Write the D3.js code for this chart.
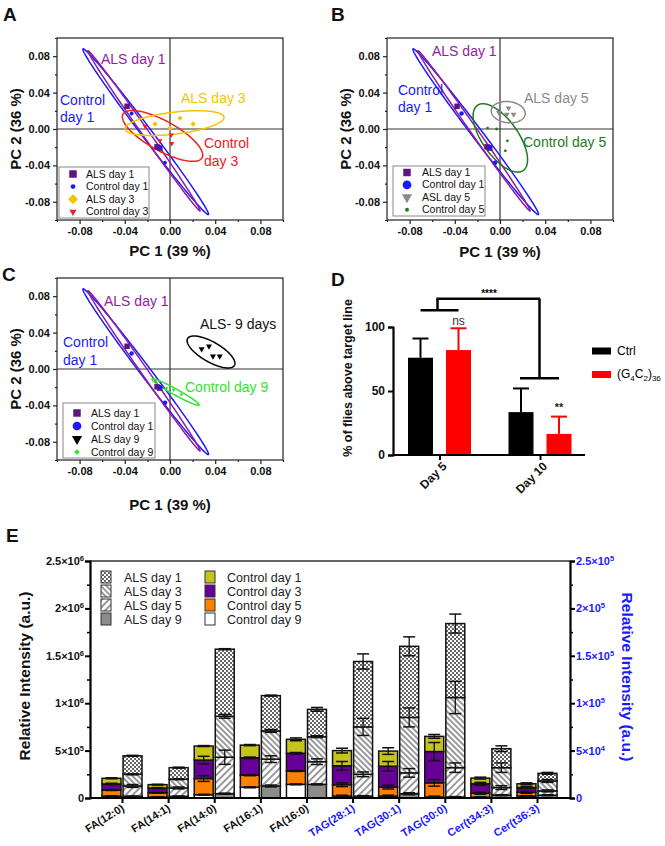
<!DOCTYPE html>
<html><head><meta charset="utf-8">
<script src="https://cdn.jsdelivr.net/npm/d3@7"></script>
<style>
body{margin:0;background:#fff}
text{font-family:"Liberation Sans",Arial,sans-serif}
</style></head>
<body><svg id="c" width="665" height="846"></svg>
<script>
// ---------------- DATA ----------------
const pcaDomain = [-0.1, 0.1];
const pcaTicks = [-0.08, -0.04, 0, 0.04, 0.08];
const pcaMinor = [-0.1, -0.06, -0.02, 0.02, 0.06, 0.1];

// scores
const alsDay1Pts = [[-0.038,0.025],[-0.0115,-0.0196],[-0.009,-0.021]];
const ctrlDay1Pts = [[-0.034,0.017],[-0.009,-0.020],[-0.0044,-0.037]];
const alsDay3Pts = [[-0.0133,0.0055],[0.0,0.001],[0.0088,0.012],[0.0204,0.0055]];
const ctrlDay3Pts = [[-0.022,0.003],[-0.009,-0.013],[0.001,-0.0065],[0.0015,-0.016]];
const alsDay5Pts = [[-0.001,0.018],[0.0075,0.023],[0.006,0.016],[0.012,0.016]];
const ctrlDay5Pts = [[-0.011,0.001],[-0.003,0.0],[0.0065,-0.013],[0.0047,-0.024]];
const alsDay9Pts = [[0.028,0.022],[0.0345,0.025],[0.038,0.014],[0.044,0.014]];
const ctrlDay9Pts = [[-0.013,-0.012],[-0.003,-0.021],[0.003,-0.023],[0.01,-0.028]];

// confidence ellipses: [centerX, centerY, majorHalfX, majorHalfY, minor/major ratio]
const ellAlsDay1 = [-0.023,-0.002,0.0496,-0.088,0.035];
const ellCtrlDay1 = [-0.0215,-0.003,0.0555,-0.091,0.05];
const ellAlsDay3 = [0.004,0.0065,0.0438,0.0065,0.22];
const ellCtrlDay3 = [-0.0066,-0.0076,0.035,-0.024,0.33];
const ellAlsDay5 = [0.0073,0.0185,0.015,-0.0022,0.62];
const ellCtrlDay5 = [0.0003,-0.0098,0.0203,-0.0358,0.45];
const ellAlsDay9 = [0.0363,0.0187,0.0207,-0.0148,0.37];
const ellCtrlDay9 = [0.0049,-0.0253,0.0208,-0.0143,0.11];

// panel D
const dDays = ["Day 5","Day 10"];
const dSeries = ["Ctrl","G4C2"];
const dCtrl = [76, 33.5];
const dCtrlErr = [15, 18.5];
const dG4C2 = [82, 16.5];
const dG4C2Err = [17, 13.5];
const dTicks = [0, 50, 100];
const dBracketDay5 = 113, dBracketTop = 122, dBracketDay10 = 60;

// panel E
const eCats = ["FA(12:0)","FA(14:1)","FA(14:0)","FA(16:1)","FA(16:0)","TAG(28:1)","TAG(30:1)","TAG(30:0)","Cer(t34:3)","Cer(t36:3)"];
const eAxisSide = ["L","L","L","L","L","R","R","R","R","R"];
const ctrlDay9 = [0.2e5,0.1e5,0.35e5,1.13e5,1.44e5, 0.2e4,0.2e4,0.1e4,0.08e4,0.2e4];
const ctrlDay5 = [0.64e5,0.45e5,1.7e5,1.27e5,1.41e5, 1.2e4,0.95e4,1.5e4,0.42e4,0.4e4];
const ctrlDay3 = [0.64e5,0.5e5,1.95e5,1.84e5,1.87e5, 2.0e4,2.2e4,3.3e4,1.0e4,0.5e4];
const ctrlDay1 = [0.6e5,0.36e5,1.48e5,1.34e5,1.47e5, 1.6e4,1.6e4,1.6e4,0.6e4,0.4e4];
const alsDay9 = [0.18e5,0.18e5,0.46e5,1.27e5,1.44e5, 0.2e4,0.45e4,0.1e4,0.3e4,0.3e4];
const alsDay5 = [1.09e5,0.88e5,3.84e5,2.83e5,2.39e5, 2.3e4,2.2e4,3.1e4,0.8e4,0.45e4];
const alsDay3 = [1.23e5,0.92e5,4.32e5,2.97e5,2.64e5, 5.0e4,5.85e4,7.4e4,2.1e4,1.05e4];
const alsDay1 = [1.95e5,1.22e5,7.08e5,3.73e5,2.88e5, 6.9e4,7.5e4,7.8e4,2.0e4,0.8e4];
const ctrlDay9Err = [0.03e5,0.02e5,0.04e5,0.05e5,0.04e5, 0.1e4,0.1e4,0.1e4,0.05e4,0.05e4];
const ctrlDay5Err = [0.05e5,0.04e5,0.3e5,0.05e5,0.05e5, 0.2e4,0.2e4,0.35e4,0.1e4,0.1e4];
const ctrlDay3Err = [0.08e5,0.05e5,0.4e5,0.08e5,0.08e5, 0.45e4,0.5e4,0.95e4,0.15e4,0.1e4];
const ctrlDay1Err = [0.05e5,0.04e5,0.05e5,0.06e5,0.15e5, 0.25e4,0.35e4,0.2e4,0.1e4,0.1e4];
const alsDay9Err = [0.02e5,0.02e5,0.05e5,0.1e5,0.05e5, 0.05e4,0.1e4,0.05e4,0.05e4,0.05e4];
const alsDay5Err = [0.15e5,0.1e5,0.75e5,0.35e5,0.3e5, 0.25e4,0.45e4,0.5e4,0.2e4,0.1e4];
const alsDay3Err = [0.05e5,0.05e5,0.2e5,0.15e5,0.1e5, 0.9e4,1.0e4,1.7e4,0.5e4,0.15e4];
const alsDay1Err = [0.05e5,0.05e5,0.05e5,0.05e5,0.2e5, 0.8e4,1.0e4,1.0e4,0.3e4,0.1e4];
const eLeftTicks = [0,5e5,1e6,1.5e6,2e6,2.5e6];
const eLeftMinor = [2.5e5,7.5e5,1.25e6,1.75e6,2.25e6];
const eRightTicks = [0,5e4,1e5,1.5e5,2e5,2.5e5];
const eRightMinor = [2.5e4,7.5e4,1.25e5,1.75e5,2.25e5];

// ---------------- DRAW ----------------
const svg = d3.select("#c");
const defs = svg.append("defs");
const FONT = '"Liberation Sans",Arial,sans-serif';

// patterns
const pChk = defs.append("pattern").attr("id","chk").attr("patternUnits","userSpaceOnUse").attr("width",4).attr("height",4);
pChk.append("rect").attr("width",4).attr("height",4).attr("fill","#fff");
pChk.append("rect").attr("width",2).attr("height",2).attr("fill","#666");
pChk.append("rect").attr("x",2).attr("y",2).attr("width",2).attr("height",2).attr("fill","#666");
const pH3 = defs.append("pattern").attr("id","h3").attr("patternUnits","userSpaceOnUse").attr("width",4).attr("height",4).attr("patternTransform","rotate(-45)");
pH3.append("rect").attr("width",4).attr("height",4).attr("fill","#fff");
pH3.append("line").attr("x1",1).attr("x2",1).attr("y1",0).attr("y2",4).attr("stroke","#555").attr("stroke-width",1.2);
const pH5 = defs.append("pattern").attr("id","h5").attr("patternUnits","userSpaceOnUse").attr("width",5).attr("height",5).attr("patternTransform","rotate(45)");
pH5.append("rect").attr("width",5).attr("height",5).attr("fill","#fff");
pH5.append("line").attr("x1",1).attr("x2",1).attr("y1",0).attr("y2",5).attr("stroke","#555").attr("stroke-width",1.2);

function ellipsePath(x, y, e) {
  const [cx, cy, ax, ay, r] = e;
  const c = [x(cx), y(cy)], p = [x(cx + ax), y(cy + ay)];
  const u = [p[0] - c[0], p[1] - c[1]];
  const v = [-u[1] * r, u[0] * r];
  const ts = d3.range(0, 2 * Math.PI, Math.PI / 72);
  return d3.line().curve(d3.curveLinearClosed)(ts.map(t => [
    c[0] + Math.cos(t) * u[0] + Math.sin(t) * v[0],
    c[1] + Math.cos(t) * u[1] + Math.sin(t) * v[1]]));
}

const SYM = {
  square: {type: d3.symbolSquare, rot: 0},
  circle: {type: d3.symbolCircle, rot: 0},
  diamond: {type: d3.symbolSquare, rot: 45},
  tri: {type: d3.symbolTriangle, rot: 180}
};

function symbolPath(kind, size) { return d3.symbol(SYM[kind].type, size)(); }

const C = {
  purple: "#941b9e", purpleFill: "#5e1580", blue: "#1a1aff", yellow: "#f5c400",
  red: "#f02020", gray: "#8a8a8a", dgreen: "#1e7a1e", lgreen: "#2ee52e", black: "#000"
};

function pcaPanel(cfg) {
  const W = 226, H = 182;
  const g = svg.append("g").attr("transform", `translate(${cfg.ox},${cfg.oy})`);
  const x = d3.scaleLinear().domain(pcaDomain).range([0, W]);
  const y = d3.scaleLinear().domain(pcaDomain).range([H, 0]);
  const fmt = d => d.toFixed(2);
  const xa = g.append("g").attr("transform", `translate(0,${H})`)
    .call(d3.axisBottom(x).tickValues(pcaTicks).tickSize(4).tickPadding(3).tickFormat(fmt));
  const xm = g.append("g").attr("transform", `translate(0,${H})`)
    .call(d3.axisBottom(x).tickValues(pcaMinor).tickSize(2).tickFormat(""));
  const ya = g.append("g").call(d3.axisLeft(y).tickValues(pcaTicks).tickSize(4).tickPadding(3).tickFormat(fmt));
  const ym = g.append("g").call(d3.axisLeft(y).tickValues(pcaMinor).tickSize(2).tickFormat(""));
  [xa, xm, ya, ym].forEach(a => {
    a.select(".domain").remove();
    a.selectAll("line").attr("stroke", "#222").attr("stroke-width", 1.2);
    a.selectAll("text").attr("font-family", FONT).attr("font-weight", "bold").attr("font-size", 11).attr("fill", "#111");
  });
  g.append("line").attr("x1", x(0)).attr("x2", x(0)).attr("y1", 0).attr("y2", H).attr("stroke", "#333").attr("stroke-width", 1.2);
  g.append("line").attr("y1", y(0)).attr("y2", y(0)).attr("x1", 0).attr("x2", W).attr("stroke", "#333").attr("stroke-width", 1.2);
  g.append("rect").attr("width", W).attr("height", H).attr("fill", "none").attr("stroke", "#222").attr("stroke-width", 1.2);

  cfg.ellipses.forEach(e => g.append("path").attr("d", ellipsePath(x, y, e.p))
    .attr("fill", "none").attr("stroke", e.color).attr("stroke-width", 1.5));
  cfg.points.forEach(s => g.append("g").selectAll("path").data(s.pts).join("path")
    .attr("transform", d => `translate(${x(d[0])},${y(d[1])}) rotate(${SYM[s.kind].rot})`)
    .attr("d", symbolPath(s.kind, s.size)).attr("fill", s.color));

  // axis titles
  svg.append("text").attr("x", cfg.ox + W / 2).attr("y", cfg.xTitleY).attr("text-anchor", "middle")
    .attr("font-weight", "bold").attr("font-size", 15).attr("fill", "#111").text("PC 1 (39 %)");
  svg.append("text").attr("transform", `translate(${cfg.yTitleX},${cfg.oy + H / 2}) rotate(-90)`)
    .attr("text-anchor", "middle").attr("font-weight", "bold").attr("font-size", 15).attr("fill", "#111").text("PC 2 (36 %)");
  // panel letter
  svg.append("text").attr("x", cfg.letter[1]).attr("y", cfg.letter[2]).attr("font-weight", "bold")
    .attr("font-size", 19).attr("fill", "#111").text(cfg.letter[0]);
  // in-plot labels
  cfg.labels.forEach(l => svg.append("text").attr("x", l[1]).attr("y", l[2]).attr("font-size", 14)
    .attr("fill", l[3]).text(l[0]));
  // legend
  const L = cfg.legend;
  svg.append("rect").attr("x", L.x).attr("y", L.y).attr("width", L.w).attr("height", L.h)
    .attr("fill", "#fff").attr("stroke", "#888").attr("stroke-width", 1);
  L.items.forEach((it, i) => {
    const cy = L.y + L.top + i * L.step;
    svg.append("path").attr("transform", `translate(${L.sx},${cy}) rotate(${SYM[it.kind].rot})`)
      .attr("d", symbolPath(it.kind, it.size)).attr("fill", it.color);
    svg.append("text").attr("x", L.tx).attr("y", cy + 3.5).attr("font-size", 10.5).attr("fill", "#111").text(it.label);
  });
}

const day1Ell = [{p: ellCtrlDay1, color: C.blue}, {p: ellAlsDay1, color: C.purple}];

// Panel A
pcaPanel({
  ox: 57, oy: 38, xTitleY: 256, yTitleX: 21, letter: ["A", 3, 21],
  ellipses: [...day1Ell, {p: ellCtrlDay3, color: C.red}, {p: ellAlsDay3, color: C.yellow}],
  points: [
    {pts: alsDay1Pts, kind: "square", size: 30, color: C.purpleFill},
    {pts: ctrlDay1Pts, kind: "circle", size: 12, color: C.blue},
    {pts: alsDay3Pts, kind: "diamond", size: 14, color: C.yellow},
    {pts: ctrlDay3Pts, kind: "tri", size: 12, color: C.red}
  ],
  labels: [["ALS day 1", 101, 64, C.purple], ["Control", 60, 105, C.blue], ["day 1", 60, 122, C.blue],
           ["ALS day 3", 181, 103, C.yellow], ["Control", 204, 148, C.red], ["day 3", 204, 166, C.red]],
  legend: {x: 59, y: 167, w: 90, h: 51, top: 7, step: 12.6, sx: 73, tx: 86, items: [
    {kind: "square", size: 56, color: C.purpleFill, label: "ALS day 1"},
    {kind: "circle", size: 18, color: C.blue, label: "Control day 1"},
    {kind: "diamond", size: 50, color: C.yellow, label: "ALS day 3"},
    {kind: "tri", size: 22, color: C.red, label: "Control day 3"}]}
});

// Panel B
pcaPanel({
  ox: 387, oy: 38, xTitleY: 257, yTitleX: 351, letter: ["B", 331, 21],
  ellipses: [...day1Ell, {p: ellCtrlDay5, color: C.dgreen}, {p: ellAlsDay5, color: C.gray}],
  points: [
    {pts: alsDay1Pts, kind: "square", size: 30, color: C.purpleFill},
    {pts: ctrlDay1Pts, kind: "circle", size: 16, color: C.blue},
    {pts: alsDay5Pts, kind: "tri", size: 14, color: C.gray},
    {pts: ctrlDay5Pts, kind: "circle", size: 6, color: C.dgreen}
  ],
  labels: [["ALS day 1", 432, 56, C.purple], ["Control", 398, 95, C.blue], ["day 1", 398, 112, C.blue],
           ["ALS day 5", 524, 103, C.gray], ["Control day 5", 523, 147, C.dgreen]],
  legend: {x: 393, y: 166, w: 92, h: 50, top: 6.5, step: 12.4, sx: 407, tx: 422, items: [
    {kind: "square", size: 56, color: C.purpleFill, label: "ALS day 1"},
    {kind: "circle", size: 60, color: C.blue, label: "Control day 1"},
    {kind: "tri", size: 45, color: C.gray, label: "ASL day 5"},
    {kind: "circle", size: 12, color: C.dgreen, label: "Control day 5"}]}
});

// Panel C
pcaPanel({
  ox: 57, oy: 278, xTitleY: 510, yTitleX: 21, letter: ["C", 2, 281],
  ellipses: [...day1Ell, {p: ellCtrlDay9, color: C.lgreen}, {p: ellAlsDay9, color: C.black}],
  points: [
    {pts: alsDay1Pts, kind: "square", size: 30, color: C.purpleFill},
    {pts: ctrlDay1Pts, kind: "circle", size: 16, color: C.blue},
    {pts: alsDay9Pts, kind: "tri", size: 16, color: C.black},
    {pts: ctrlDay9Pts, kind: "diamond", size: 6, color: C.lgreen}
  ],
  labels: [["ALS day 1", 104, 306, C.purple], ["Control", 63, 347, C.blue], ["day 1", 63, 365, C.blue],
           ["ALS- 9 days", 200, 329, "#111"], ["Control day 9", 185, 392, C.lgreen]],
  legend: {x: 63, y: 403, w: 92, h: 55, top: 10, step: 13, sx: 77, tx: 91, items: [
    {kind: "square", size: 56, color: C.purpleFill, label: "ALS day 1"},
    {kind: "circle", size: 60, color: C.blue, label: "Control day 1"},
    {kind: "tri", size: 45, color: C.black, label: "ALS day 9"},
    {kind: "diamond", size: 16, color: C.lgreen, label: "Control day 9"}]}
});

// ---------------- Panel D ----------------
{
  const xD = d3.scalePoint().domain(dDays).range([439.5, 540]);
  const sub = d3.scaleBand().domain(dSeries).range([-31.5, 31.5]).paddingInner(0.342);
  const yD = d3.scaleLinear().domain([0, 100]).range([455, 327]);
  const g = svg.append("g");
  const vals = {Ctrl: dCtrl, G4C2: dG4C2};
  const errs = {Ctrl: dCtrlErr, G4C2: dG4C2Err};
  const col = {Ctrl: "#000", G4C2: "#ff0000"};
  dSeries.forEach(s => dDays.forEach((d, i) => {
    const x0 = xD(d) + sub(s), bw = sub.bandwidth(), cx = x0 + bw / 2;
    g.append("line").attr("x1", cx).attr("x2", cx).attr("y1", yD(vals[s][i])).attr("y2", yD(vals[s][i] + errs[s][i]))
      .attr("stroke", col[s]).attr("stroke-width", 2);
    g.append("line").attr("x1", cx - 8).attr("x2", cx + 8).attr("y1", yD(vals[s][i] + errs[s][i])).attr("y2", yD(vals[s][i] + errs[s][i]))
      .attr("stroke", col[s]).attr("stroke-width", 2);
    g.append("rect").attr("x", x0).attr("y", yD(vals[s][i])).attr("width", bw).attr("height", yD(0) - yD(vals[s][i]))
      .attr("fill", col[s]);
  }));
  const ya = g.append("g").attr("transform", "translate(393,0)").call(d3.axisLeft(yD).tickValues(dTicks).tickSize(5).tickPadding(3));
  ya.select(".domain").attr("stroke", "#000").attr("stroke-width", 2.2);
  ya.selectAll("line").attr("stroke", "#000").attr("stroke-width", 2);
  ya.selectAll("text").attr("font-family", FONT).attr("font-weight", "bold").attr("font-size", 12).attr("fill", "#111");
  const xa = g.append("g").attr("transform", "translate(0,455)").call(d3.axisBottom(xD).tickSize(5).tickFormat(""));
  xa.select(".domain").attr("d", "M393,0H585").attr("stroke", "#000").attr("stroke-width", 2.2);
  xa.selectAll("line").attr("stroke", "#000").attr("stroke-width", 2);
  dDays.forEach(d => g.append("text").attr("transform", `translate(${xD(d) + 8},467) rotate(-45)`)
    .attr("text-anchor", "end").attr("font-weight", "bold").attr("font-size", 12).attr("fill", "#111").text(d));
  // brackets
  const bl = (x1, y1, x2, y2) => g.append("line").attr("x1", x1).attr("y1", y1).attr("x2", x2).attr("y2", y2)
    .attr("stroke", "#000").attr("stroke-width", 2.5);
  const c5 = xD("Day 5"), c10 = xD("Day 10");
  bl(c5 - 19, yD(dBracketDay5), c5 + 19, yD(dBracketDay5));
  bl(c5 - 2, yD(dBracketDay5), c5 - 2, yD(dBracketTop));
  bl(c5 - 3.2, yD(dBracketTop), c10 - 0.5 + 0.7, yD(dBracketTop));
  bl(c10 - 0.5, yD(dBracketTop), c10 - 0.5, yD(dBracketDay10));
  bl(c10 - 20, yD(dBracketDay10), c10 + 19, yD(dBracketDay10));
  g.append("text").attr("x", 489).attr("y", 297).attr("text-anchor", "middle").attr("font-size", 10).attr("font-weight", "bold").text("****");
  g.append("text").attr("x", xD("Day 5") + sub("G4C2") + sub.bandwidth() / 2).attr("y", 325).attr("text-anchor", "middle")
    .attr("font-size", 12).attr("fill", "#333").text("ns");
  g.append("text").attr("x", xD("Day 10") + sub("G4C2") + sub.bandwidth() / 2).attr("y", 411).attr("text-anchor", "middle")
    .attr("font-size", 11).attr("font-weight", "bold").attr("fill", "#222").text("**");
  g.append("text").attr("transform", "translate(352,378) rotate(-90)").attr("text-anchor", "middle")
    .attr("font-weight", "bold").attr("font-size", 12.5).attr("fill", "#111").text("% of flies  above target line");
  // legend
  g.append("rect").attr("x", 592).attr("y", 347.5).attr("width", 19).attr("height", 7).attr("fill", "#000");
  g.append("text").attr("x", 617).attr("y", 355).attr("font-size", 12).text("Ctrl");
  g.append("rect").attr("x", 592).attr("y", 371).attr("width", 19).attr("height", 7).attr("fill", "#ff0000");
  const t = g.append("text").attr("x", 617).attr("y", 378).attr("font-size", 12);
  t.append("tspan").text("(G");
  t.append("tspan").attr("font-size", 8).attr("dy", 3).text("4");
  t.append("tspan").attr("dy", -3).text("C");
  t.append("tspan").attr("font-size", 8).attr("dy", 3).text("2");
  t.append("tspan").attr("dy", -3).text(")");
  t.append("tspan").attr("font-size", 8).attr("dy", 3).text("36");
  svg.append("text").attr("x", 331).attr("y", 286).attr("font-weight", "bold").attr("font-size", 19).attr("fill", "#111").text("D");
}

// ---------------- Panel E ----------------
{
  const xE = d3.scalePoint().domain(eCats).range([122, 537]);
  const yL = d3.scaleLinear().domain([0, 2.5e6]).range([798, 561]);
  const yR = d3.scaleLinear().domain([0, 2.5e5]).range([798, 561]);
  const sub = d3.scaleBand().domain(["ctrl", "als"]).range([-20, 20]).paddingInner(0.1);
  const groups = [
    {key: "ctrl", series: [
      {label: "Control day 9", v: ctrlDay9, e: ctrlDay9Err, fill: "#ffffff"},
      {label: "Control day 5", v: ctrlDay5, e: ctrlDay5Err, fill: "#ff7f00"},
      {label: "Control day 3", v: ctrlDay3, e: ctrlDay3Err, fill: "#660099"},
      {label: "Control day 1", v: ctrlDay1, e: ctrlDay1Err, fill: "#c5c41c"}]},
    {key: "als", series: [
      {label: "ALS day 9", v: alsDay9, e: alsDay9Err, fill: "#8c8c8c"},
      {label: "ALS day 5", v: alsDay5, e: alsDay5Err, fill: "url(#h5)"},
      {label: "ALS day 3", v: alsDay3, e: alsDay3Err, fill: "url(#h3)"},
      {label: "ALS day 1", v: alsDay1, e: alsDay1Err, fill: "url(#chk)"}]}
  ];
  const g = svg.append("g");
  const eg = svg.append("g");
  groups.forEach(gp => {
    eCats.forEach((c, i) => {
      const ys = eAxisSide[i] === "L" ? yL : yR;
      const x0 = xE(c) + sub(gp.key), bw = sub.bandwidth(), cx = x0 + bw / 2;
      let cum = 0;
      gp.series.forEach(s => {
        const lo = cum, hi = cum + s.v[i]; cum = hi;
        g.append("rect").attr("x", x0).attr("y", ys(hi)).attr("width", bw).attr("height", ys(lo) - ys(hi))
          .attr("fill", s.fill).attr("stroke", "#111").attr("stroke-width", 1.5);
        const e = s.e[i];
        eg.append("line").attr("x1", cx).attr("x2", cx).attr("y1", ys(hi - e)).attr("y2", ys(hi + e)).attr("stroke", "#111").attr("stroke-width", 1.3);
        [hi - e, hi + e].forEach(v => eg.append("line").attr("x1", cx - 6).attr("x2", cx + 6).attr("y1", ys(v)).attr("y2", ys(v))
          .attr("stroke", "#111").attr("stroke-width", 1.5));
      });
    });
  });
  // top frame
  svg.append("line").attr("x1", 90).attr("x2", 570).attr("y1", 561).attr("y2", 561).attr("stroke", "#333").attr("stroke-width", 1.5);
  const sci = d => {
    if (d === 0) return {m: "0", e: ""};
    const ex = Math.floor(Math.log10(d) + 1e-9);
    const m = +(d / Math.pow(10, ex)).toFixed(2);
    return {m: m + "×10", e: String(ex)};
  };
  function sciAxis(axisGen, ticks, tx) {
    const a = svg.append("g").attr("transform", `translate(${tx},0)`).call(axisGen.tickValues(ticks).tickSize(5).tickPadding(3).tickFormat(""));
    a.select(".domain").attr("stroke", "#000").attr("stroke-width", 2.2);
    a.selectAll("line").attr("stroke", "#000").attr("stroke-width", 2);
    return a;
  }
  sciAxis(d3.axisLeft(yL), eLeftTicks, 90);
  const lm = svg.append("g").attr("transform", "translate(90,0)").call(d3.axisLeft(yL).tickValues(eLeftMinor).tickSize(3).tickFormat(""));
  lm.select(".domain").remove(); lm.selectAll("line").attr("stroke", "#000").attr("stroke-width", 1.5);
  sciAxis(d3.axisRight(yR), eRightTicks, 570);
  const rm = svg.append("g").attr("transform", "translate(570,0)").call(d3.axisRight(yR).tickValues(eRightMinor).tickSize(3).tickFormat(""));
  rm.select(".domain").remove(); rm.selectAll("line").attr("stroke", "#000").attr("stroke-width", 1.5);
  eLeftTicks.forEach(v => {
    const s = sci(v);
    const t = svg.append("text").attr("x", 84).attr("y", yL(v) + 4).attr("text-anchor", "end")
      .attr("font-weight", "bold").attr("font-size", 11).attr("fill", "#111");
    t.append("tspan").text(s.m);
    if (s.e) t.append("tspan").attr("dy", -4).attr("font-size", 7.5).text(s.e);
  });
  eRightTicks.forEach(v => {
    const s = sci(v);
    const t = svg.append("text").attr("x", 576).attr("y", yR(v) + 4).attr("text-anchor", "start")
      .attr("font-weight", "bold").attr("font-size", 11).attr("fill", "#1a1aff");
    t.append("tspan").text(s.m);
    if (s.e) t.append("tspan").attr("dy", -4).attr("font-size", 7.5).text(s.e);
  });
  const xa = svg.append("g").attr("transform", "translate(0,798)").call(d3.axisBottom(xE).tickSize(5).tickFormat(""));
  xa.select(".domain").attr("d", "M90,0H570").attr("stroke", "#000").attr("stroke-width", 2.2);
  xa.selectAll("line").attr("stroke", "#000").attr("stroke-width", 2);
  eCats.forEach((c, i) => svg.append("text").attr("transform", `translate(${xE(c) + 3},810) rotate(-32)`)
    .attr("text-anchor", "end").attr("font-weight", "bold").attr("font-size", 11)
    .attr("fill", eAxisSide[i] === "L" ? "#111" : "#1a1aff").text(c));
  svg.append("text").attr("transform", "translate(30,676) rotate(-90)").attr("text-anchor", "middle")
    .attr("font-weight", "bold").attr("font-size", 15.5).attr("fill", "#111").text("Relative Intensity (a.u.)");
  svg.append("text").attr("transform", "translate(622,677) rotate(90)").attr("text-anchor", "middle")
    .attr("font-weight", "bold").attr("font-size", 15.5).attr("fill", "#1a1aff").text("Relative Intensity (a.u.)");
  svg.append("text").attr("x", 6).attr("y", 542).attr("font-weight", "bold").attr("font-size", 19).attr("fill", "#111").text("E");
  // legend
  const legCols = [{x: 101, tx: 124, series: groups[1].series.slice().reverse()},
                   {x: 205, tx: 227, series: groups[0].series.slice().reverse()}];
  legCols.forEach(col => col.series.forEach((s, i) => {
    const cy = 577 + i * 14;
    svg.append("rect").attr("x", col.x).attr("y", cy - 6).attr("width", 10).attr("height", 12)
      .attr("fill", s.fill).attr("stroke", "#333").attr("stroke-width", 1);
    svg.append("text").attr("x", col.tx).attr("y", cy + 4.5).attr("font-size", 12.5).attr("fill", "#222").text(s.label);
  }));
}
</script>
</body></html>
